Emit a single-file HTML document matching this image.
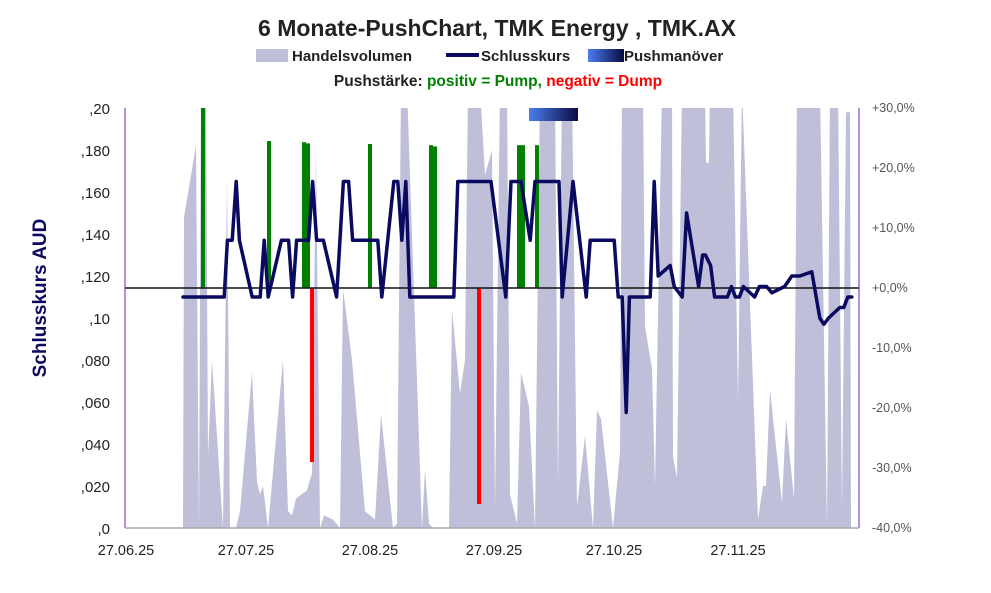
<!DOCTYPE html>
<html><head><meta charset="utf-8"><style>
body{margin:0;background:#fff;}
svg{display:block;font-family:"Liberation Sans",Arial,sans-serif;}
</style></head><body>
<svg id="chart" width="991" height="593" viewBox="0 0 991 593">
<defs>
<clipPath id="plotclip"><rect x="125" y="108" width="734" height="420"/></clipPath>
<linearGradient id="pushgrad" x1="0" x2="1" y1="0" y2="0"><stop offset="0" stop-color="#4a7ef0"/><stop offset="1" stop-color="#0a0a40"/></linearGradient>
</defs>
<text x="497" y="36" text-anchor="middle" font-size="23" font-weight="bold" fill="#222">6 Monate-PushChart, TMK Energy , TMK.AX</text>
<g>
<rect x="256" y="49" width="32" height="13" fill="#bfbfd9"/>
<text x="292" y="61" font-size="15" font-weight="bold" fill="#222">Handelsvolumen</text>
<line x1="446" y1="55" x2="479" y2="55" stroke="#0a0a60" stroke-width="4"/>
<text x="481" y="61" font-size="15" font-weight="bold" fill="#222">Schlusskurs</text>
<rect x="588" y="49" width="36" height="13" fill="url(#pushgrad)"/>
<text x="624" y="61" font-size="15" font-weight="bold" fill="#222">Pushmanöver</text>
<text x="498" y="86" text-anchor="middle" font-size="15.5" font-weight="bold"><tspan fill="#222">Pushstärke:  </tspan><tspan fill="#008000">positiv = Pump,  </tspan><tspan fill="#ff0000">negativ = Dump</tspan></text>
</g>
<text transform="translate(46,298) rotate(-90)" text-anchor="middle" font-size="19" font-weight="bold" fill="#0a0a60">Schlusskurs AUD</text>
<g id="plot" clip-path="url(#plotclip)"></g>
<g id="axes"></g>
</svg>
<script>
const volDays=[14.5,14.75,17.75,18.5,19,20.25,20.75,21.75,24.5,25.5,26.25,27.75,28.75,31.75,33,33.75,34.5,35.75,39.5,40.75,41.75,42.75,45.5,46.75,47.75,48.75,49.75,52,53.75,54.5,56.75,60,61.25,62.5,64,67,68,69,70.5,74.25,75,76,77,81,81.75,83.75,85,85.75,88.75,90,91.75,92.5,93.75,95.5,96.25,98,99,101,102.5,103.75,107.5,108.25,109.25,111.75,113,115,117,118,119,122,123.75,124.25,129.5,130,131.75,132.5,134.25,136.75,137,138,139.25,145,145.25,146,146.25,152,153.25,154.25,158.25,159.5,160.25,161.25,164.25,165.25,167.25,168,173.75,175.5,176.25,178.25,179.25,180.25,181.25,181.5];
const volVals=[0,.74,.91,0,1.05,1.05,.17,.40,0,.83,0,0,.04,.37,.11,.08,.10,0,.40,.04,.03,.07,.09,.13,.90,0,.03,.02,0,.57,.40,.04,.03,.02,.27,0,.01,1.05,1.05,0,.14,.01,0,0,.52,.32,.40,1.05,1.05,.84,.9,.05,1.05,1.05,.08,.01,.37,.29,0,1.05,1.05,.1,1.05,1.05,.05,.22,0,.28,.26,0,.18,1.05,1.05,.48,.38,.1,1.05,1.05,.17,.12,1.05,1.05,.87,.87,1.05,1.05,.3,1.05,.02,.10,.10,.33,.06,.26,.07,1.05,1.05,0,1.05,1.05,.05,.99,.99,0];
const priceDays=[14.5,24.8,25.6,26.8,27.8,28.6,31.8,33.8,34.8,35.8,39.1,40.9,41.9,42.9,45.9,46.9,47.9,49.6,52.9,54.6,55.9,56.9,63.2,64.2,67.2,68.2,69.2,70.2,71.2,82.2,83.2,91.5,95.2,96.5,99.0,101.3,102.5,108.5,109.3,112.0,115.3,116.3,122.3,123.3,124.3,125.3,126.1,131.3,132.3,133.3,136.3,137.3,139.3,140.4,143.4,144.4,145.1,146.4,147.4,150.6,151.6,152.6,153.6,154.6,157.4,158.6,160.4,161.7,164.9,166.7,168.7,171.7,173.7,174.7,175.9,178.7,179.7,180.7,181.7];
const priceVals=[.110,.110,.137,.137,.165,.137,.110,.110,.137,.110,.137,.137,.110,.137,.137,.165,.137,.137,.110,.165,.165,.137,.137,.110,.165,.165,.137,.165,.110,.110,.165,.165,.110,.165,.165,.137,.165,.165,.110,.165,.110,.137,.137,.110,.110,.055,.110,.110,.165,.120,.125,.115,.110,.150,.115,.130,.130,.125,.110,.110,.115,.110,.110,.115,.110,.115,.115,.112,.115,.120,.120,.122,.100,.097,.100,.105,.105,.110,.110];
const pushDays=[19.5,36,44.75,45.75,61.25,76.5,77.5,98.5,99.5,103,46.75,88.5];
const pushVals=[31,24.5,24.3,24.1,24,23.8,23.6,23.8,23.8,23.8,-29,-36];
const maneuverStart=101, maneuverEnd=113.25;
const leftTicks=[0,0.02,0.04,0.06,0.08,0.10,0.12,0.14,0.16,0.18,0.20];
const leftTickLabels=[",0",",020",",040",",060",",080",",10",",120",",140",",160",",180",",20"];
const rightTicks=[-40,-30,-20,-10,0,10,20,30];
const rightTickLabels=["-40,0%","-30,0%","-20,0%","-10,0%","+0,0%","+10,0%","+20,0%","+30,0%"];
const xTickDays=[0,30,61,92,122,153];
const xTickLabels=["27.06.25","27.07.25","27.08.25","27.09.25","27.10.25","27.11.25"];

const X0=125,X1=859,Y0=528,Y1=108,H=420;
const xs=d=>X0+d*4;
const yL=v=>Y0-v/0.2*H;
const yR=p=>Y0-(p+40)/70*H;
const yV=f=>Y0-f*H;
const NS="http://www.w3.org/2000/svg";
function mk(tag,attrs,parent){const e=document.createElementNS(NS,tag);for(const k in attrs)e.setAttribute(k,attrs[k]);parent.appendChild(e);return e;}
const plot=document.getElementById('plot'),axes=document.getElementById('axes');

let pts=[xs(volDays[0])+","+Y0];
volDays.forEach((d,i)=>pts.push(xs(d)+","+yV(volVals[i])));
pts.push(xs(volDays[volDays.length-1])+","+Y0);
const vol=mk('polygon',{points:pts.join(' '),fill:'#bfbfd9'},plot);



pushDays.forEach((d,i)=>{
  const v=pushVals[i];
  const y=Math.min(yR(v),yR(0)),h=Math.abs(yR(v)-yR(0));
  const r=mk('rect',{x:xs(d)-2,y:y,width:4,height:h,fill:v>=0?'#008000':'#ff0000'},plot);
  
  
});

const zl=mk('line',{x1:X0,x2:X1,y1:yR(0),y2:yR(0),stroke:'#111','stroke-width':1.5},plot);



const pl=mk('polyline',{points:priceDays.map((d,i)=>xs(d)+","+yL(priceVals[i])).join(' '),fill:'none',stroke:'#0a0a60','stroke-width':3.5,'stroke-linejoin':'round','stroke-linecap':'round'},plot);



const mb=mk('rect',{x:xs(maneuverStart),y:Y1,width:xs(maneuverEnd)-xs(maneuverStart),height:13,fill:'url(#pushgrad)'},plot);



const la=mk('line',{x1:X0,x2:X0,y1:Y1,y2:Y0,stroke:'#6020c0','stroke-width':1},axes);


const ra=mk('line',{x1:X1,x2:X1,y1:Y1,y2:Y0,stroke:'#6020c0','stroke-width':1},axes);


const ba=mk('line',{x1:X0,x2:X1,y1:Y0,y2:Y0,stroke:'#aaa','stroke-width':1.5},axes);



leftTicks.forEach((v,i)=>{
  const t=mk('text',{x:110,y:yL(v)+6,'text-anchor':'end','font-size':15,fill:'#222'},axes);
  t.textContent=leftTickLabels[i];
  
  
});
rightTicks.forEach((v,i)=>{
  const t=mk('text',{x:872,y:yR(v)+4,'font-size':12.5,fill:'#555'},axes);
  t.textContent=rightTickLabels[i];
  
  
});
xTickDays.forEach((d,i)=>{
  const t=mk('text',{x:xs(d)+1,y:555,'text-anchor':'middle','font-size':14.5,fill:'#222'},axes);
  t.textContent=xTickLabels[i];
  
  
});
</script>
</body></html>
